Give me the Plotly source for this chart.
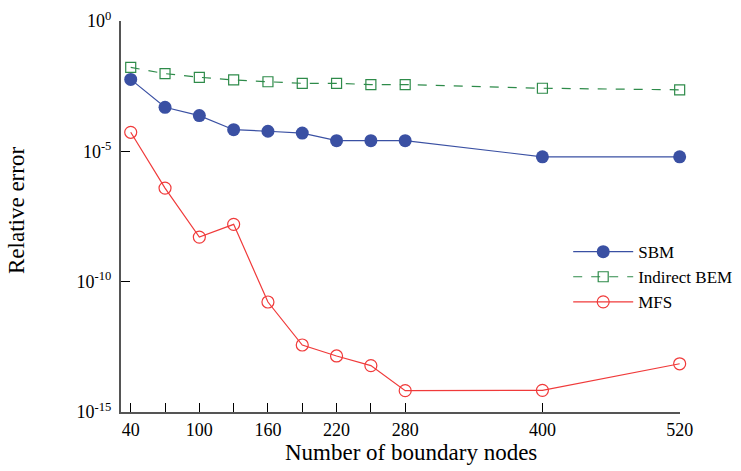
import plotly.graph_objects as go

nodes = [40, 70, 100, 130, 160, 190, 220, 250, 280, 400, 520]
sbm_log = [-2.24, -3.31, -3.63, -4.17, -4.23, -4.30, -4.59, -4.59, -4.59, -5.21, -5.21]
bem_log = [-1.78, -2.02, -2.16, -2.26, -2.33, -2.39, -2.39, -2.44, -2.44, -2.58, -2.64]
mfs_log = [-4.27, -6.41, -8.29, -7.80, -10.78, -12.43, -12.85, -13.22, -14.18, -14.17, -13.15]

sbm = [10 ** v for v in sbm_log]
bem = [10 ** v for v in bem_log]
mfs = [10 ** v for v in mfs_log]

x_label_vals = [40, 100, 160, 220, 280, 400, 520]
x_label_text = ["40", "100", "160", "220", "280", "400", "520"]
y_tick_vals = [1, 1e-5, 1e-10, 1e-15]
y_tick_text = ["10<sup>0</sup>", "10<sup>-5</sup>", "10<sup>-10</sup>", "10<sup>-15</sup>"]

FONT = "Liberation Serif, DejaVu Serif, serif"
X_RANGE = [31.5, 520.3]

fig = go.Figure()
fig.add_trace(go.Scatter(
    x=nodes, y=sbm, name="SBM", mode="lines+markers",
    line=dict(color="#3a50a3", width=1.2),
    marker=dict(symbol="circle", size=13, color="#3a50a3"),
    cliponaxis=False,
))
fig.add_trace(go.Scatter(
    x=nodes, y=bem, name="Indirect BEM", mode="lines+markers",
    line=dict(color="#2e8b4a", width=1.2, dash="dash"),
    marker=dict(symbol="square-open", size=10, color="#2e8b4a", line=dict(width=1.2)),
    cliponaxis=False,
))
fig.add_trace(go.Scatter(
    x=nodes, y=mfs, name="MFS", mode="lines+markers", xaxis="x2",
    line=dict(color="#f03a3a", width=1.2),
    marker=dict(symbol="circle-open", size=12, color="#f03a3a", line=dict(width=1.2)),
    cliponaxis=False,
))

fig.update_layout(
    width=741, height=471,
    margin=dict(l=121, r=61, t=21, b=59, autoexpand=False),
    paper_bgcolor="white", plot_bgcolor="white",
    font=dict(family=FONT, size=17, color="black"),
    showlegend=True,
    legend=dict(
        x=0.80, y=0.455, xanchor="left", yanchor="top",
        bgcolor="rgba(0,0,0,0)", borderwidth=0,
        font=dict(family=FONT, size=17), itemwidth=60,
        tracegroupgap=0,
    ),
    xaxis=dict(
        range=X_RANGE, tickmode="array", tickvals=x_label_vals, ticktext=x_label_text,
        ticks="inside", ticklen=9, tickwidth=1, tickcolor="black",
        showline=True, linecolor="#555", linewidth=2, showgrid=False, zeroline=False,
        tickfont=dict(family=FONT, size=18), automargin=False,
    ),
    xaxis2=dict(
        range=X_RANGE, overlaying="x", side="bottom", matches="x",
        tickmode="array", tickvals=nodes, showticklabels=False,
        ticks="inside", ticklen=9, tickwidth=1, tickcolor="black",
        showline=False, showgrid=False, zeroline=False, automargin=False,
    ),
    yaxis=dict(
        type="log", range=[-15, 0], tickmode="array", tickvals=y_tick_vals, ticktext=y_tick_text,
        ticks="inside", ticklen=9, tickwidth=1, tickcolor="black",
        showline=True, linecolor="#555", linewidth=2, showgrid=False, zeroline=False,
        tickfont=dict(family=FONT, size=18), automargin=False, ticklabelstandoff=4,
    ),
    annotations=[
        dict(text="Number of boundary nodes", xref="paper", yref="paper",
             x=(411 - 121) / 559, y=-(452 - 412) / 391, xanchor="center", yanchor="middle",
             showarrow=False, font=dict(family=FONT, size=23)),
        dict(text="Relative error", xref="paper", yref="paper",
             x=-(121 - 16) / 559, y=(412 - 211) / 391, xanchor="center", yanchor="middle",
             textangle=-90, showarrow=False, font=dict(family=FONT, size=23)),
    ],
)

fig.write_html("out.html", config={"displayModeBar": False},
               post_script="document.body.style.margin='0px';")
